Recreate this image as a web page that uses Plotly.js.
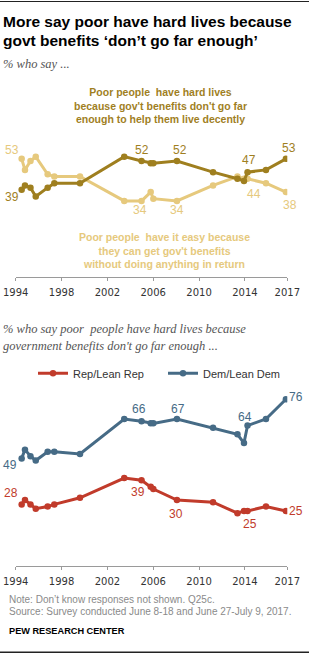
<!DOCTYPE html>
<html>
<head>
<meta charset="utf-8">
<script src="https://cdn.plot.ly/plotly-3.0.1.min.js"></script>
<style>
  html, body { margin: 0; padding: 0; background: #fff; }
  #chart { width: 309px; height: 654px; }
</style>
</head>
<body>
<div id="chart"></div>
<script>
// ---------- DATA ----------
const surveyDates = [1994.52, 1994.81, 1995.29, 1995.75, 1996.79, 1997.37, 1999.61, 2003.47, 2004.98, 2005.78, 2006.01, 2008.07, 2011.22, 2013.35, 2013.92, 2014.23, 2015.84, 2017.58];
const hardLivesPct = [39, 41, 40, 36, 40, 42, 42, 54, 52, 51, 51, 52, 47, 44, 43, 47, 48, 53];
const haveItEasyPct = [53, 48, 52, 54, 46, 45, 45, 34, 34, 38, 35, 34, 41, 45, 44, 44, 42, 38];
const repHardLivesPct = [28, 30, 28, 26, 27, 28, 31, 40, 39, 36, 35, 30, 29, 24, 25, 25, 27, 25];
const demHardLivesPct = [49, 53, 50, 48, 52, 52, 51, 67, 66, 65, 65, 67, 63, 60, 56, 64, 67, 76];
const tickYears = [1994, 1998, 2002, 2006, 2010, 2014, 2017.7];
const tickLabels = ['1994', '1998', '2002', '2006', '2010', '2014', '2017'];
const seriesNames = ['Rep/Lean Rep', 'Dem/Lean Dem'];

// ---------- STYLE ----------
const W = 309, H = 654;
const DARK = '#9f7f1f', LIGHT = '#e6c97d', REP = '#c13b2b', DEM = '#466b86';
const SANS = 'Liberation Sans, Arial, sans-serif';
const SERIF = 'Liberation Serif, Times New Roman, serif';
const fx = p => p / W;
const fy = p => 1 - p / H;

// which points carry value labels, and label offsets (px)
const labelSpec = [
  {series: haveItEasyPct, color: LIGHT, ax: 'x', ay: 'y', pts: [[0, -10, 9], [8, -1.5, -9.4], [11, 0, -9.4], [15, 6, -15], [17, 4, -13]]},
  {series: hardLivesPct, color: DARK, ax: 'x', ay: 'y', pts: [[0, -10, -7], [8, 0, 10.7], [11, 3, 10.7], [15, 1, 12.3], [17, 3.4, 10.6]]},
  {series: demHardLivesPct, color: DEM, ax: 'x2', ay: 'y2', pts: [[0, -11.7, -7], [8, -3, 12.4], [11, 1, 9.7], [15, -3, 9], [17, 10, 2]]},
  {series: repHardLivesPct, color: REP, ax: 'x2', ay: 'y2', pts: [[0, -10.7, 11.7], [8, -4, -11.7], [11, -1, -14], [15, 2, -12.6], [17, 10, 0]]}
];

function lineTrace(y, color, xa, ya, name, showlegend) {
  return {
    x: surveyDates, y: y, name: name, type: 'scatter', mode: 'lines+markers',
    line: {color: color, width: 3}, marker: {color: color, size: 6.5},
    xaxis: xa, yaxis: ya, showlegend: showlegend, hoverinfo: 'skip'
  };
}

const traces = [
  lineTrace(haveItEasyPct, LIGHT, 'x', 'y', 'easy', false),
  lineTrace(hardLivesPct, DARK, 'x', 'y', 'hard', false),
  lineTrace(repHardLivesPct, REP, 'x2', 'y2', seriesNames[0], true),
  lineTrace(demHardLivesPct, DEM, 'x2', 'y2', seriesNames[1], true)
];

const xAxisBase = {
  domain: [fx(15.7), fx(287.3)], range: [1994, 2017.7],
  tickmode: 'array', tickvals: tickYears, ticktext: tickLabels,
  showline: true, linecolor: '#9a9a9a', linewidth: 1,
  ticks: 'outside', ticklen: 3, tickcolor: '#9a9a9a', tickwidth: 1,
  showgrid: false, zeroline: false, fixedrange: true,
  tickfont: {family: 'DejaVu Sans, Verdana, sans-serif', size: 10, color: '#333'},
  ticklabelstandoff: 3
};

const annotations = [];
function txt(text, xpx, ypx, opts) {
  annotations.push(Object.assign({
    text: text, xref: 'paper', yref: 'paper', x: fx(xpx), y: fy(ypx),
    xanchor: 'left', yanchor: 'middle', showarrow: false, align: 'left'
  }, opts));
}

// Title & subtitles
txt('More say poor have hard lives because', 0.5, 21.3, {font: {family: SANS, size: 15.5, color: '#000', weight: 700}});
txt('govt benefits ‘don’t go far enough’', 0.5, 40.6, {font: {family: SANS, size: 15.5, color: '#000', weight: 700}});
txt('<i>% who say ...</i>', 0.5, 64, {font: {family: SERIF, size: 12.5, color: '#555'}});
txt('<b>Poor people  have hard lives<br>because gov\'t benefits don\'t go far<br>enough to help them live decently</b>', 160.5, 105.6,
    {xanchor: 'center', align: 'center', font: {family: SANS, size: 10.5, color: DARK}});
txt('<b>Poor people  have it easy because<br>they can get gov\'t benefits<br>without doing anything in return</b>', 164.8, 250.6,
    {xanchor: 'center', align: 'center', font: {family: SANS, size: 10.5, color: LIGHT}});
txt('<i>% who say poor  people have hard lives because</i>', 0.5, 329, {font: {family: SERIF, size: 12.5, color: '#555'}});
txt('<i>government benefits don\'t go far enough ...</i>', 0.5, 346.4, {font: {family: SERIF, size: 12.5, color: '#555'}});
txt('Note: Don’t know responses not shown. Q25c.', 7, 599.3, {font: {family: SANS, size: 10, color: '#8a8a8a'}});
txt('Source: Survey conducted June 8-18 and June 27-July 9, 2017.', 7, 611.7, {font: {family: SANS, size: 10, color: '#8a8a8a'}});
txt('<b>PEW RESEARCH CENTER</b>', 7, 631, {font: {family: SANS, size: 9.2, color: '#000'}});

// value labels on points
labelSpec.forEach(s => {
  s.pts.forEach(([i, dx, dy]) => {
    annotations.push({
      text: String(s.series[i]), xref: s.ax, yref: s.ay,
      x: surveyDates[i], y: s.series[i], xshift: dx, yshift: dy,
      showarrow: false, xanchor: 'center', yanchor: 'middle',
      font: {family: SANS, size: 12, color: s.color}
    });
  });
});

const layout = {
  width: W, height: H,
  margin: {l: 0, r: 0, t: 0, b: 0},
  paper_bgcolor: '#fff', plot_bgcolor: '#fff',
  xaxis: Object.assign({}, xAxisBase, {anchor: 'y'}),
  yaxis: {domain: [fy(277.3), fy(96)], range: [-0.5, -0.5 + (277.3 - 96) / 2.214], visible: false, fixedrange: true},
  xaxis2: Object.assign({}, xAxisBase, {anchor: 'y2'}),
  yaxis2: {domain: [fy(565.7), fy(385)], range: [0, (565.7 - 385) / 2.19], visible: false, fixedrange: true},
  showlegend: true,
  legend: {
    orientation: 'h', x: fx(33), y: fy(373.3), xanchor: 'left', yanchor: 'middle',
    font: {family: SANS, size: 11, color: '#333'}, bgcolor: 'rgba(0,0,0,0)',
    itemwidth: 30, entrywidth: 85, entrywidthmode: 'pixels', traceorder: 'normal'
  },
  annotations: annotations,
  shapes: [
    {type: 'line', xref: 'paper', yref: 'paper', x0: 0, x1: 1, y0: fy(1.5), y1: fy(1.5), line: {color: '#222', width: 1}},
    {type: 'line', xref: 'paper', yref: 'paper', x0: 0, x1: 1, y0: fy(652.3), y1: fy(652.3), line: {color: '#222', width: 1.5}}
  ]
};

Plotly.newPlot('chart', traces, layout, {staticPlot: true, displayModeBar: false});
</script>
</body>
</html>
